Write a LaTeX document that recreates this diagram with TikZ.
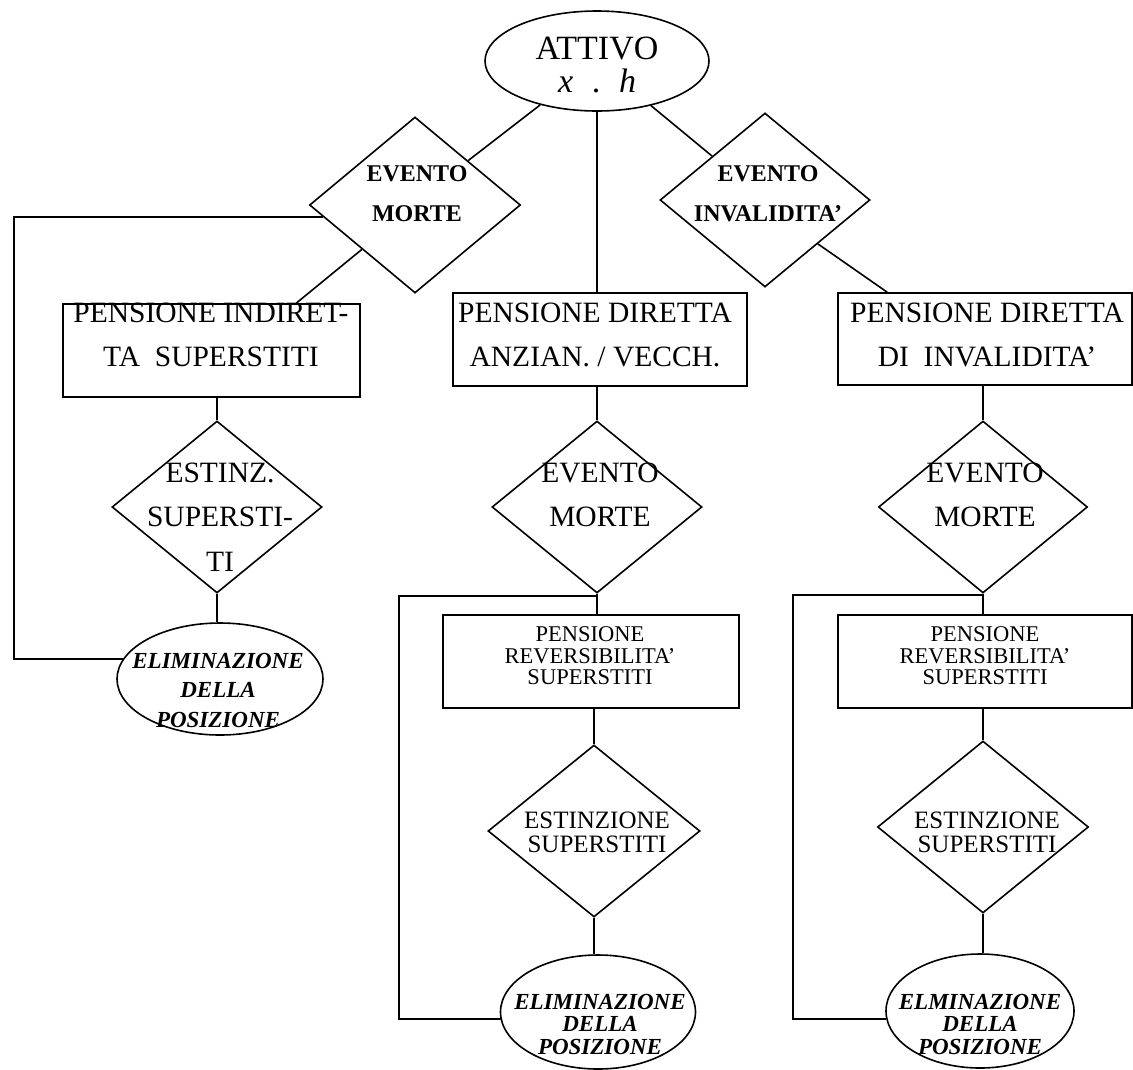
\documentclass[tikz,border=0pt]{standalone}
\usepackage{fontspec}
\setmainfont{Liberation Serif}
\usetikzlibrary{shapes.geometric,calc}
\begin{document}
\begin{tikzpicture}[x=1pt,y=-1pt,line width=1.6pt,
  box/.style={draw, rectangle, inner sep=0pt},
  diam/.style={draw, diamond, inner sep=0pt},
  oval/.style={draw, ellipse, inner sep=0pt},
  tx/.style={align=center, inner sep=0pt},
  bigf/.style={font=\fontsize{29.5}{44.5}\selectfont},
  attf/.style={font=\fontsize{34}{33}\selectfont},
  evbf/.style={font=\bfseries\fontsize{24}{40}\selectfont},
  revf/.style={font=\fontsize{22.5}{21.5}\selectfont},
  estf/.style={font=\fontsize{25}{24}\selectfont},
  elimf/.style={font=\bfseries\itshape\fontsize{23}{22.5}\selectfont},
  elimlf/.style={font=\bfseries\itshape\fontsize{23}{29.5}\selectfont}]
\path[fill=white] (0,0) rectangle (1133,1069);
\useasboundingbox (0,0) rectangle (1133,1069);

% top
\node[oval, minimum width=224pt, minimum height=100pt] (e0) at (597,61) {};
\node[tx, attf] (e0t) at (597,65) {ATTIVO\\\textit{x}\hspace{0.55em}.\hspace{0.55em}\textit{h}};

\node[diam, minimum width=211pt, minimum height=176pt] (d1) at (415,205) {};
\node[tx, evbf] (d1t) at (417,194) {EVENTO\\MORTE};
\node[diam, minimum width=210pt, minimum height=174pt] (d2) at (765,200) {};
\node[tx, evbf] (d2t) at (768,194) {EVENTO\\INVALIDITA'};

% left column
\node[box, minimum width=297pt, minimum height=93pt] (b1) at (211.5,350.5) {};
\node[tx, bigf] (b1t) at (211,335) {PENSIONE INDIRET-\\TA\ \ SUPERSTITI};
\node[diam, minimum width=210pt, minimum height=172pt] (d4) at (217,507) {};
\node[tx, bigf] (d4t) at (220,517) {ESTINZ.\\SUPERSTI-\\TI};
\node[oval, minimum width=206pt, minimum height=112pt] (e1) at (220,679) {};
\node[tx, elimlf] (e1t) at (218,690) {ELIMINAZIONE\\DELLA\\POSIZIONE};

% middle column
\node[box, minimum width=294pt, minimum height=93pt] (b2) at (600,339.5) {};
\node[tx, bigf] (b2t) at (595,335) {PENSIONE DIRETTA\\ANZIAN. / VECCH.};
\node[diam, minimum width=210pt, minimum height=172pt] (d3) at (597,507) {};
\node[tx, bigf] (d3t) at (600,495) {EVENTO\\MORTE};
\node[box, minimum width=296pt, minimum height=93pt] (b4) at (591,661.5) {};
\node[tx, revf] (b4t) at (590,656) {PENSIONE\\REVERSIBILITA'\\SUPERSTITI};
\node[diam, minimum width=212pt, minimum height=172pt] (d5) at (594,831) {};
\node[tx, estf] (d5t) at (597,832) {ESTINZIONE\\SUPERSTITI};
\node[oval, minimum width=195pt, minimum height=114pt] (e2) at (598,1012) {};
\node[tx, elimf] (e2t) at (600,1024) {ELIMINAZIONE\\DELLA\\POSIZIONE};

% right column
\node[box, minimum width=294pt, minimum height=92pt] (b3) at (985,339) {};
\node[tx, bigf] (b3t) at (987,335) {PENSIONE DIRETTA\\DI\ \ INVALIDITA'};
\node[diam, minimum width=209pt, minimum height=172pt] (d6) at (983,507) {};
\node[tx, bigf] (d6t) at (985,495) {EVENTO\\MORTE};
\node[box, minimum width=294pt, minimum height=93pt] (b5) at (985,661.5) {};
\node[tx, revf] (b5t) at (985,656) {PENSIONE\\REVERSIBILITA'\\SUPERSTITI};
\node[diam, minimum width=211pt, minimum height=172pt] (d7) at (983,827) {};
\node[tx, estf] (d7t) at (987,832) {ESTINZIONE\\SUPERSTITI};
\node[oval, minimum width=188pt, minimum height=114pt] (e3) at (980,1011) {};
\node[tx, elimf] (e3t) at (980,1024) {ELMINAZIONE\\DELLA\\POSIZIONE};

% connectors
\coordinate (cL) at (14,217);
\coordinate (cM) at (399,596);
\coordinate (cR) at (793,595);

\draw (e0) -- (d1.north east);
\draw (e0) -- (d2.north west);
\draw (e0.south) -- (e0.south |- b2.north);
\draw (d1.south west) -- ($(b1.north west)+(234,0)$);
\draw (d2.south east) -- ($(b3.north west)+(50,0)$);
\draw ($(d1.west)+(14,12)$) -- (cL) |- ($(e1.west)+(7,-20)$);

\draw (d4.north |- b1.south) -- (d4.north);
\draw (d4.south) -- (d4.south |- e1.north);

\draw (b2.south -| d3.north) -- (d3.north);
\draw (d3.south) -- (d3.south |- b4.north);
\draw (d3.south) -- (d3.south |- cM) -- (cM) |- ($(e2.west)+(1,7)$);
\draw (b4.south -| d5.north) -- (d5.north);
\draw (d5.south) -- (d5.south |- e2.north);

\draw (b3.south -| d6.north) -- (d6.north);
\draw (d6.south) -- (d6.south |- b5.north);
\draw (d6.south) -- (d6.south |- cR) -- (cR) |- ($(e3.west)+(1,8)$);
\draw (b5.south -| d7.north) -- (d7.north);
\draw (d7.south) -- (d7.south |- e3.north);
\end{tikzpicture}
\end{document}
